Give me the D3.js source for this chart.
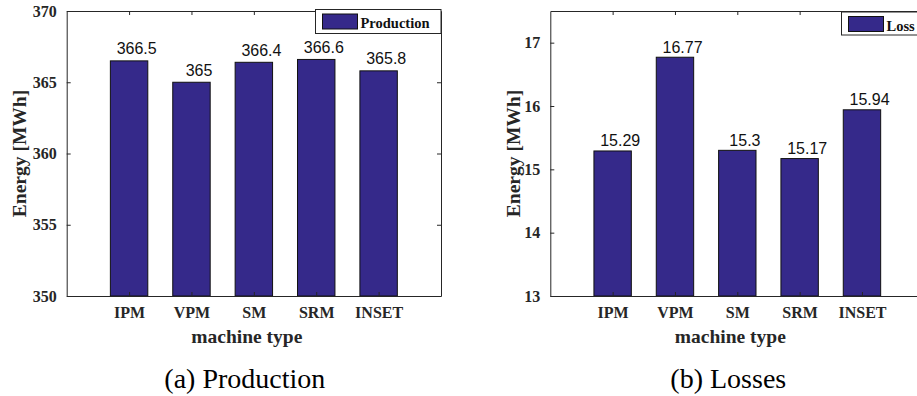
<!DOCTYPE html>
<html>
<head>
<meta charset="utf-8">
<script src="https://cdn.jsdelivr.net/npm/d3@7"></script>
<style>
  html, body { margin: 0; padding: 0; background: #fff; }
  svg { display: block; }
</style>
</head>
<body>
<script>
const categories = ["IPM", "VPM", "SM", "SRM", "INSET"];
const production = [366.5, 365, 366.4, 366.6, 365.8];
const losses = [15.29, 16.77, 15.3, 15.17, 15.94];
const productionTicks = [350, 355, 360, 365, 370];
const lossTicks = [13, 14, 15, 16, 17];

const W = 917, H = 396;
const BAR = "#35298a";
const AX = "#262626";
const SERIF = "'Liberation Serif', 'Times New Roman', serif";
const SANS = "'Liberation Sans', Arial, sans-serif";

const svg = d3.select("body").append("svg").attr("width", W).attr("height", H);

function panel(opt) {
  const g = svg.append("g");
  const x = d3.scaleLinear().domain([0, categories.length + 1]).range([opt.x0, opt.x1]);
  const y = d3.scaleLinear().domain(opt.domain).range([opt.y1, opt.y0]);
  const bw = x(0.6) - x(0);

  // bars
  g.selectAll("rect.bar").data(opt.values).join("rect")
    .attr("class", "bar")
    .attr("x", (d, i) => x(i + 1) - bw / 2)
    .attr("y", d => y(d))
    .attr("width", bw)
    .attr("height", d => y(opt.domain[0]) - y(d))
    .attr("fill", BAR)
    .attr("stroke", "#111")
    .attr("stroke-width", 1);

  // value labels (slightly right of bar centre, as in the original)
  g.selectAll("text.val").data(opt.values).join("text")
    .attr("class", "val")
    .attr("x", (d, i) => x(i + 1) + 7.6)
    .attr("y", d => y(d) - opt.labelGap)
    .attr("text-anchor", "middle")
    .attr("font-family", SANS)
    .attr("font-size", 16)
    .attr("fill", "#111")
    .text(d => String(d));

  const style = sel => {
    sel.select(".domain").attr("stroke", AX).attr("stroke-width", 1);
    sel.selectAll(".tick line").attr("stroke", AX).attr("stroke-width", 1);
    sel.selectAll(".tick text").attr("font-family", SERIF).attr("font-weight", "bold")
      .attr("font-size", 16).attr("fill", AX);
  };

  // left axis
  g.append("g").attr("transform", `translate(${opt.x0},0)`)
    .call(d3.axisLeft(y).tickValues(opt.ticks).tickSizeInner(-4).tickSizeOuter(0).tickPadding(10).tickFormat(d3.format("d")))
    .call(style);
  // right axis (ticks only)
  g.append("g").attr("transform", `translate(${opt.x1},0)`)
    .call(d3.axisRight(y).tickValues(opt.ticks).tickSizeInner(-4).tickSizeOuter(0).tickFormat(""))
    .call(style);
  // top axis (ticks only)
  g.append("g").attr("transform", `translate(0,${opt.y0})`)
    .call(d3.axisTop(x).tickValues(d3.range(1, categories.length + 1)).tickSizeInner(-4).tickSizeOuter(0).tickFormat(""))
    .call(style);
  // bottom axis
  g.append("g").attr("transform", `translate(0,${opt.y1})`)
    .call(d3.axisBottom(x).tickValues(d3.range(1, categories.length + 1)).tickSizeInner(-4).tickSizeOuter(0)
      .tickPadding(11).tickFormat(i => categories[i - 1]))
    .call(style);

  // x label
  g.append("text")
    .attr("x", (opt.x0 + opt.x1) / 2 - 7)
    .attr("y", 343)
    .attr("text-anchor", "middle")
    .attr("font-family", SERIF).attr("font-weight", "bold").attr("font-size", 19.5)
    .attr("fill", AX)
    .text("machine type");

  // y label
  g.append("text")
    .attr("transform", `translate(${opt.ylabX},${(opt.y0 + opt.y1) / 2}) rotate(-90)`)
    .attr("text-anchor", "middle")
    .attr("font-family", SERIF).attr("font-weight", "bold").attr("font-size", 19.5)
    .attr("fill", AX)
    .text("Energy [MWh]");

  // legend
  const L = opt.legend;
  g.append("rect").attr("x", L.x).attr("y", L.y).attr("width", L.w).attr("height", L.h)
    .attr("fill", "#fff").attr("stroke", AX).attr("stroke-width", 1);
  g.append("rect").attr("x", L.x + 7).attr("y", L.y + 4.5).attr("width", 35).attr("height", 15)
    .attr("fill", BAR).attr("stroke", "#111").attr("stroke-width", 1);
  g.append("text").attr("x", L.x + 45).attr("y", L.y + 18.5)
    .attr("font-family", SERIF).attr("font-weight", "bold").attr("font-size", 14.5)
    .attr("fill", "#111")
    .text(opt.legendText);

  // caption
  svg.append("text")
    .attr("x", (opt.x0 + opt.x1) / 2 - 9)
    .attr("y", 388)
    .attr("text-anchor", "middle")
    .attr("font-family", SERIF).attr("font-size", 28)
    .attr("fill", "#000")
    .text(opt.caption);
}

panel({
  x0: 66.7, x1: 441, y0: 11, y1: 296,
  domain: [350, 370], ticks: productionTicks, values: production,
  labelGap: 6.5, ylabX: 26,
  legend: { x: 315.5, y: 9.5, w: 125.5, h: 24 },
  legendText: "Production",
  caption: "(a) Production"
});

panel({
  x0: 550.3, x1: 924.3, y0: 11, y1: 296,
  domain: [13, 17.5], ticks: lossTicks, values: losses,
  labelGap: 4.7, ylabX: 520,
  legend: { x: 841.5, y: 12, w: 90, h: 23 },
  legendText: "Loss",
  caption: "(b) Losses"
});
</script>
</body>
</html>
